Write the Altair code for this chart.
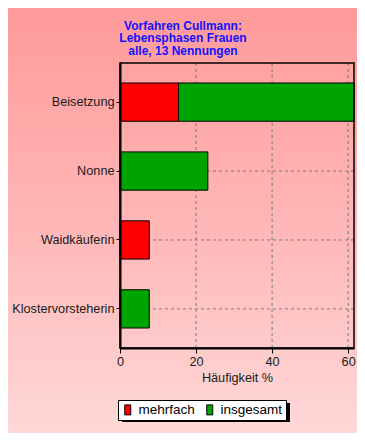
import altair as alt
import pandas as pd

categories = ["Beisetzung", "Nonne", "Waidkäuferin", "Klostervorsteherin"]
mehrfach = [15.4, 0, 7.7, 0]
insgesamt = [46.2, 23.1, 0, 7.7]
series = ["mehrfach", "insgesamt"]
series_colors = ["#FF0000", "#00A400"]
x_ticks = [0, 5, 10, 15, 20, 25, 30, 35, 40, 45, 50, 55, 60]
x_grid = [20, 40, 60]
title_lines = ["Vorfahren Cullmann:", "Lebensphasen Frauen", "alle, 13 Nennungen"]

rows = []
for i, c in enumerate(categories):
    for j, (s, vals) in enumerate(zip(series, [mehrfach, insgesamt])):
        if vals[i] > 0:
            rows.append({"Kategorie": c, "Serie": s, "Wert": vals[i], "ord": j})
df = pd.DataFrame(rows)

FONT = "Liberation Sans"
GRID = "#7a7a7a"
one = pd.DataFrame({"a": [0]})

bg = alt.Chart(one).mark_rect(
    fill=alt.LinearGradient(
        gradient="linear",
        stops=[
            alt.GradientStop(color="#FF9A9A", offset=0),
            alt.GradientStop(color="#FFB6B6", offset=0.5),
            alt.GradientStop(color="#FFD8D8", offset=1),
        ],
        x1=0, x2=0, y1=0, y2=1,
    ),
).encode(
    x=alt.value(-112), x2=alt.value(237), y=alt.value(-55), y2=alt.value(370)
)

# drop shadow behind the legend box
shadow = alt.Chart(one).mark_rect(fill="black").encode(
    x=alt.value(2), x2=alt.value(170), y=alt.value(340), y2=alt.value(359)
)

frame = alt.Chart(one).mark_rect(
    fill=None, stroke="black", strokeWidth=1.5
).encode(
    x=alt.value(0), x2=alt.value("width"), y=alt.value(0), y2=alt.value("height")
)

xscale = alt.Scale(domain=[0, 61.54], nice=False)
yscale = alt.Scale(paddingInner=0.445, paddingOuter=0.29)

vgrid = alt.Chart(pd.DataFrame({"g": x_grid})).mark_rule(
    color=GRID, strokeDash=[3, 3], strokeWidth=1
).encode(x=alt.X("g:Q", scale=xscale))

hgrid = alt.Chart(pd.DataFrame({"Kategorie": categories})).mark_rule(
    color=GRID, strokeDash=[3, 3], strokeWidth=1
).encode(y=alt.Y("Kategorie:N", sort=categories, scale=yscale))

bars = alt.Chart(df).mark_bar(stroke="black", strokeWidth=1).encode(
    y=alt.Y(
        "Kategorie:N",
        sort=categories,
        title=None,
        scale=yscale,
        axis=alt.Axis(
            labelFont=FONT, labelFontSize=12.7, labelColor="#1a1a1a",
            tickSize=4, tickColor="black", labelPadding=2,
            domainColor="black", domainWidth=2, grid=False, zindex=1,
        ),
    ),
    x=alt.X(
        "Wert:Q",
        stack="zero",
        title="Häufigkeit %",
        scale=xscale,
        axis=alt.Axis(
            values=x_ticks,
            labelExpr="datum.value % 20 === 0 ? datum.label : ''",
            labelFlush=False,
            labelFont=FONT, labelFontSize=12.7, labelColor="#1a1a1a",
            tickSize={"condition": {"test": "datum.value % 20 === 0", "value": 5}, "value": 3},
            tickColor="black", labelPadding=2,
            domainColor="black", domainWidth=2, grid=False, zindex=1,
            titleFont=FONT, titleFontSize=12.7, titleFontWeight="normal",
            titleColor="#1a1a1a", titlePadding=4,
        ),
    ),
    color=alt.Color(
        "Serie:N",
        scale=alt.Scale(domain=series, range=series_colors),
        legend=alt.Legend(
            title=None, orient="none", direction="horizontal",
            legendX=-2, legendY=337,
            fillColor="white", strokeColor="black", padding=3,
            symbolType="M-0.6,-1H0.6V1H-0.6Z", symbolSize=100,
            symbolStrokeColor="black", symbolStrokeWidth=1, symbolOpacity=1,
            labelFont=FONT, labelFontSize=13.5, labelColor="black",
            columnPadding=8, labelOffset=4, zindex=1,
        ),
    ),
    order=alt.Order("ord:Q"),
)

chart = alt.layer(bg, shadow, vgrid, hgrid, bars, frame).properties(
    width=234,
    height=285,
    padding={"left": 112, "top": 55, "right": 3, "bottom": 85},
    autosize=alt.AutoSizeParams(type="none"),
    title=alt.TitleParams(
        text=title_lines, font=FONT, fontSize=12, fontWeight="bold",
        color="#1212FF", anchor="middle", dx=-54, offset=-50, lineHeight=12.7,
    ),
).configure(background="#FFB6B6").configure_view(stroke=None)

chart.save("out.html", embed_options={"renderer": "svg", "actions": False})
